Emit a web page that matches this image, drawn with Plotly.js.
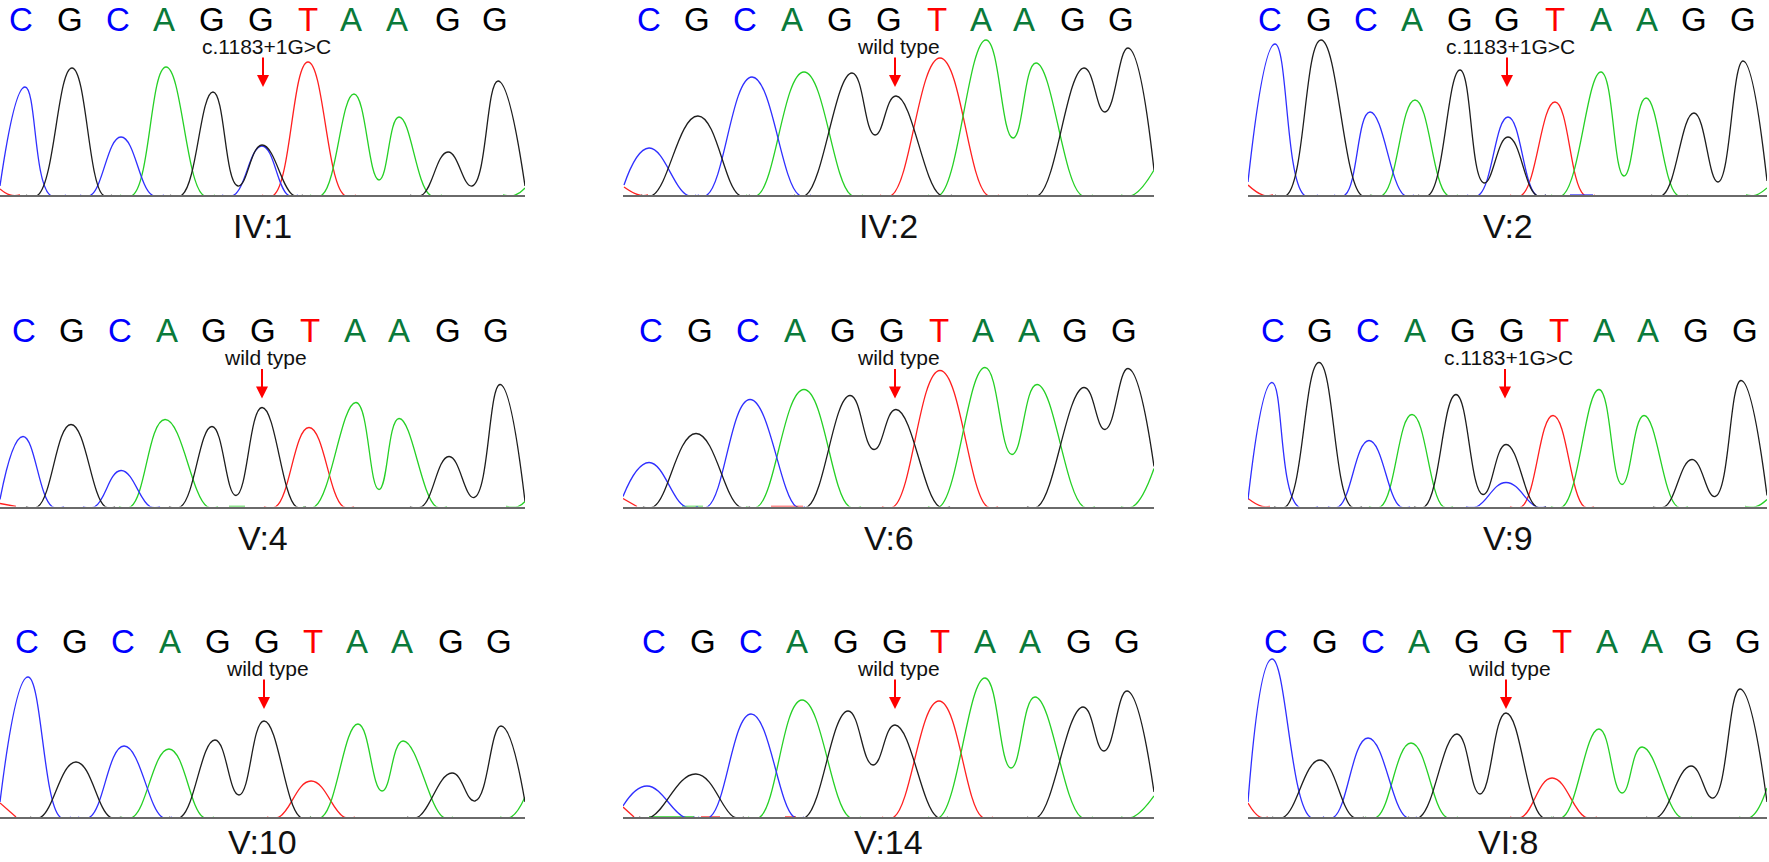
<!DOCTYPE html>
<html>
<head>
<meta charset="utf-8">
<script src="https://cdn.plot.ly/plotly-3.0.1.min.js"></script>
<style>
html, body { margin: 0; padding: 0; background: #fff; }
#plot { width: 1769px; height: 862px; }
</style>
</head>
<body>
<div id="plot"></div>
<script>
// one chromatogram per sample
const samples = ['IV:1', 'IV:2', 'V:2', 'V:4', 'V:6', 'V:9', 'V:10', 'V:14', 'VI:8'];
const notes = ['c.1183+1G>C', 'wild type', 'c.1183+1G>C', 'wild type', 'wild type',
               'c.1183+1G>C', 'wild type', 'wild type', 'wild type'];
const bases = ['C', 'G', 'C', 'A', 'G', 'G', 'T', 'A', 'A', 'G', 'G'];

// base call positions (scan units) for each sample
const callPos = [
    [21, 70, 118, 164, 212, 261, 308, 351, 397, 448, 495],
    [26, 74, 122, 169, 217, 266, 314, 358, 401, 450, 498],
    [22, 71, 118, 164, 212, 259, 307, 353, 399, 446, 495],
    [24, 72, 120, 167, 214, 263, 310, 355, 399, 448, 496],
    [28, 77, 125, 172, 220, 269, 316, 360, 406, 452, 501],
    [25, 72, 120, 167, 215, 264, 311, 356, 400, 448, 497],
    [27, 75, 123, 170, 218, 267, 313, 357, 402, 451, 499],
    [31, 80, 128, 174, 223, 272, 317, 362, 407, 456, 504],
    [28, 77, 125, 171, 219, 268, 314, 359, 404, 452, 500]
];
// position of the marked base (arrow)
const markPos = [263, 272, 259, 262, 272, 257, 264, 272, 258];

// trace knots [scan, intensity] per channel, one list of segments per sample
const traceA = [
    [[[120,0],[133,0],[166,128],[203,0],[215,0]], [[310,0],[322,0],[354,101],[379,15],[399,78],[430,0],[442,0]], [[503,0],[515,0],[525,7]]],
    [[[123,0],[135,0],[181,123],[228,0],[240,0]], [[305,0],[317,0],[363,155],[390,57],[413,132],[458,0],[470,0]], [[498,0],[510,0],[531,25]]],
    [[[123,0],[135,0],[167,95],[199,0],[210,0]], [[303,0],[315,0],[353,123],[376,19],[398,97],[429,0],[440,0]], [[498,0],[508,0],[519,7]]],
    [[[119,0],[131,0],[165,87],[207,0],[218,0]], [[229,0],[245,0]], [[303,0],[315,0],[356,104],[379,17],[399,88],[436,0],[447,0]], [[506,0],[518,0],[525,5]]],
    [[[59,0],[80,0]], [[123,0],[135,0],[181,117],[226,0],[238,0]], [[305,0],[317,0],[362,139],[389,52],[414,122],[460,0],[472,0]], [[498,0],[510,0],[531,38]]],
    [[[121,0],[133,0],[164,92],[195,0],[205,0]], [[303,0],[315,0],[351,117],[374,22],[396,91],[429,0],[440,0]], [[497,0],[508,0],[519,7]]],
    [[[121,0],[133,0],[169,68],[203,0],[214,0]], [[310,0],[322,0],[358,93],[382,26],[403,76],[443,0],[453,0]], [[500,0],[511,0],[525,20]]],
    [[[26,0],[71,0]], [[125,0],[137,0],[179,117],[226,0],[238,0]], [[305,0],[317,0],[362,139],[388,49],[412,120],[458,0],[470,0]], [[498,0],[510,0],[531,21]]],
    [[[117,0],[129,0],[163,74],[198,0],[210,0]], [[303,0],[315,0],[351,88],[374,24],[394,70],[432,0],[444,0]], [[491,0],[503,0],[519,29]]]
];
const traceC = [
    [[[0,9],[25,108],[50,0],[66,0]], [[80,0],[91,0],[121,58],[152,0],[164,0]], [[222,0],[234,0],[262,49],[288,0],[298,0]]],
    [[[1,10],[26,47],[64,0],[76,0]], [[72,0],[84,0],[129,118],[176,0],[188,0]]],
    [[[0,13],[27,151],[56,0],[70,0]], [[86,0],[97,0],[122,83],[156,0],[166,0]], [[219,0],[231,0],[260,78],[288,0],[298,0]], [[322,0],[345,0]]],
    [[[0,7],[23,70],[52,0],[64,0]], [[83,0],[95,0],[121,36],[150,0],[160,0]]],
    [[[0,10],[26,44],[62,0],[75,0]], [[73,0],[85,0],[127,107],[173,0],[182,0]]],
    [[[0,7],[24,124],[50,0],[70,0]], [[80,0],[91,0],[121,66],[152,0],[162,0]], [[218,0],[229,0],[258,24],[288,0],[298,0]]],
    [[[0,15],[28,140],[60,0],[71,0]], [[78,0],[90,0],[124,71],[162,0],[172,0]]],
    [[[0,11],[24,31],[61,0],[72,0]], [[75,0],[87,0],[128,103],[171,0],[181,0]]],
    [[[0,15],[24,158],[62,0],[76,0]], [[75,0],[86,0],[120,79],[158,0],[169,0]]]
];
const traceG = [
    [[[26,0],[38,0],[72,127],[103,0],[112,0]], [[170,0],[182,0],[213,103],[238,9],[262,50],[293,0],[303,0]], [[410,0],[422,0],[448,43],[472,9],[498,114],[525,9]]],
    [[[18,0],[30,0],[75,79],[116,0],[127,0]], [[171,0],[183,0],[229,122],[252,60],[273,99],[317,0],[329,0]], [[404,0],[416,0],[461,127],[482,83],[505,147],[531,25]]],
    [[[27,0],[39,0],[73,155],[113,0],[123,0]], [[170,0],[181,0],[212,125],[236,12],[260,58],[288,0],[298,0]], [[403,0],[415,0],[446,82],[470,13],[495,134],[519,14]]],
    [[[26,0],[38,0],[71,82],[105,0],[115,0]], [[169,0],[181,0],[212,80],[236,11],[262,99],[296,0],[306,0]], [[410,0],[422,0],[449,50],[474,9],[500,122],[525,5]]],
    [[[20,0],[31,0],[73,73],[116,0],[127,0]], [[173,0],[185,0],[227,111],[251,57],[273,97],[316,0],[327,0]], [[404,0],[415,0],[461,119],[482,77],[505,138],[531,40]]],
    [[[26,0],[38,0],[71,144],[103,0],[114,0]], [[166,0],[177,0],[208,112],[235,12],[258,62],[288,0],[298,0]], [[405,0],[417,0],[444,47],[467,10],[493,126],[519,11]]],
    [[[30,0],[41,0],[76,55],[110,0],[121,0]], [[169,0],[181,0],[215,77],[239,22],[264,96],[300,0],[311,0]], [[407,0],[418,0],[452,44],[475,16],[501,91],[525,15]]],
    [[[16,0],[28,0],[73,43],[111,0],[121,0]], [[171,0],[183,0],[225,106],[250,52],[272,92],[314,0],[325,0]], [[404,0],[415,0],[460,110],[481,66],[504,126],[531,25]]],
    [[[24,0],[36,0],[72,57],[105,0],[116,0]], [[160,0],[172,0],[209,83],[232,23],[258,104],[294,0],[306,0]], [[398,0],[410,0],[443,51],[465,19],[492,128],[519,15]]]
];
const traceT = [
    [[[0,6],[10,0],[20,0]], [[262,0],[274,0],[308,133],[344,0],[356,0]]],
    [[[1,8],[16,0],[25,0]], [[257,0],[269,0],[317,137],[364,0],[376,0]]],
    [[[0,10],[15,0],[25,0]], [[262,0],[274,0],[307,93],[336,0],[347,0]]],
    [[[0,3],[16,0]], [[264,0],[276,0],[309,79],[343,0],[354,0]]],
    [[[0,8],[14,0]], [[148,0],[180,0]], [[259,0],[271,0],[317,136],[364,0],[375,0]]],
    [[[0,8],[14,0],[22,0]], [[262,0],[274,0],[305,91],[336,0],[346,0]]],
    [[[0,14],[16,0]], [[267,0],[279,0],[311,36],[344,0],[355,0]]],
    [[[0,10],[11,0]], [[78,0],[97,0]], [[162,0],[173,0]], [[259,0],[271,0],[316,116],[359,0],[370,0]]],
    [[[0,14],[12,0],[20,0]], [[262,0],[274,0],[304,39],[337,0],[349,0]]]
];

const W = 1769, H = 862;
const colLeft = [0, 623, 1248];
const colRight = [525, 1154, 1767];
const rowBase = [195, 506.5, 817];
const plotH = 175;

const channels = [
    {knots: traceT, color: '#ff2020'},
    {knots: traceA, color: '#26d026'},
    {knots: traceC, color: '#2f2fff'},
    {knots: traceG, color: '#1e1e1e'}
];
const letterColor = {C: '#0000ff', G: '#000000', A: '#0a7a3a', T: '#ff0000'};
const font = 'Liberation Sans, Arial, sans-serif';

function toXY(segs){
    let x = [], y = [];
    segs.forEach(function(seg){
        seg.forEach(function(p){ x.push(p[0]); y.push(p[1]); });
        x.push(null);
        y.push(null);
    });
    return {x, y};
}

function py(px){
    return 1 - px / H;
}

let data = [];
let annotations = [];
let layout = {
    width: W,
    height: H,
    margin: {l: 0, r: 0, t: 0, b: 0},
    paper_bgcolor: '#fff',
    plot_bgcolor: 'rgba(0,0,0,0)',
    showlegend: false
};

for(let p = 0; p < samples.length; p++){
    let col = p % 3;
    let row = Math.floor(p / 3);
    let sfx = p === 0 ? '' : String(p + 1);
    let l = colLeft[col], r = colRight[col], base = rowBase[row];
    let span = r - l;

    layout['xaxis' + sfx] = {
        domain: [l / W, r / W], range: [0, span], anchor: 'y' + sfx,
        showline: true, linecolor: '#6a6a6a', linewidth: 2, layer: 'below traces',
        showgrid: false, zeroline: false, showticklabels: false, ticks: '', fixedrange: true
    };
    layout['yaxis' + sfx] = {
        domain: [py(base), py(base - plotH)], range: [0, plotH], anchor: 'x' + sfx,
        visible: false, fixedrange: true
    };

    channels.forEach(function(ch){
        let xy = toXY(ch.knots[p]);
        data.push({
            type: 'scatter', mode: 'lines',
            x: xy.x, y: xy.y,
            xaxis: 'x' + sfx, yaxis: 'y' + sfx,
            line: {shape: 'spline', smoothing: 1.3, width: 1.3, color: ch.color},
            hoverinfo: 'skip'
        });
    });

    bases.forEach(function(b, i){
        annotations.push({
            text: b, x: callPos[p][i], xref: 'x' + sfx,
            y: py(base - 176), yref: 'paper', yanchor: 'middle', showarrow: false,
            font: {family: font, size: 33, color: letterColor[b]}
        });
    });

    annotations.push({
        text: notes[p], x: markPos[p], xref: 'x' + sfx, xshift: 3,
        y: py(base - 149), yref: 'paper', yanchor: 'middle', showarrow: false,
        font: {family: font, size: 21, color: '#111'}
    });
    annotations.push({
        text: '', x: markPos[p], xref: 'x' + sfx,
        y: py(base - 108), yref: 'paper', showarrow: true,
        ax: 0, ay: -31, arrowhead: 2, arrowsize: 1.2, arrowwidth: 2, arrowcolor: '#ff0000'
    });

    // the last row sits on the page edge: keep its label inside the page
    let lastRow = row === 2;
    annotations.push({
        text: samples[p], x: span / 2, xref: 'x' + sfx,
        y: lastRow ? 0 : py(base + 31), yref: 'paper',
        yanchor: lastRow ? 'bottom' : 'middle', showarrow: false, borderpad: 0,
        font: {family: font, size: 34, color: '#111'}
    });
}
layout.annotations = annotations;

Plotly.newPlot('plot', data, layout, {displayModeBar: false, staticPlot: true});
</script>
</body>
</html>
